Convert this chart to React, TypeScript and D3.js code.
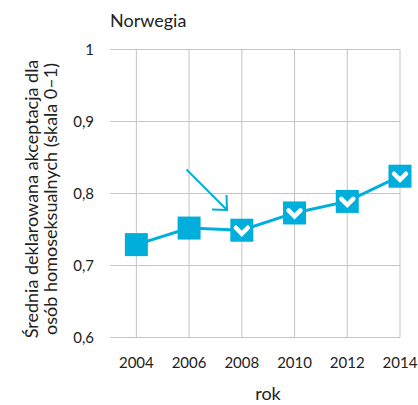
import React from 'react';
import * as d3 from 'd3';

const years = [2004, 2006, 2008, 2010, 2012, 2014];
const values = [0.729, 0.752, 0.749, 0.773, 0.789, 0.824];
const withHeart = [false, false, true, true, true, true];
const yTicks = [0.6, 0.7, 0.8, 0.9, 1];

const color = '#00aedb';
const font = 'Lato, sans-serif';

export default function App() {
	const width = 418;
	const height = 405;

	const x = d3.scaleLinear().domain([2003, 2014]).range([110, 400]);
	const y = d3.scaleLinear().domain([0.6, 1]).range([337.5, 49.5]);

	const line = d3.line<number>()
		.x((d, i) => x(years[i]))
		.y(d => y(d));

	const fmt = (v: number) => (v === 1 ? '1' : d3.format('.1f')(v).replace('.', ','));

	return (
		<svg width={width} height={height} style={{ position: 'absolute', left: 0, top: 0 }}>
			<text x={110} y={27} fontFamily={font} fontSize={18} fill="#222">Norwegia</text>

			{/* grid */}
			{yTicks.map(t => (
				<line key={t} x1={110} x2={400} y1={y(t)} y2={y(t)} stroke="#c4c4c4" strokeWidth={1} />
			))}
			{years.map(yr => (
				<line key={yr} x1={x(yr)} x2={x(yr)} y1={y(1)} y2={y(0.6)} stroke="#c4c4c4" strokeWidth={1} />
			))}

			{yTicks.map(t => (
				<text key={t} x={94} y={y(t) + 5} textAnchor="end" fontFamily={font} fontSize={15} fill="#222">{fmt(t)}</text>
			))}
			{years.map(yr => (
				<text key={yr} x={x(yr)} y={368} textAnchor="middle" fontFamily={font} fontSize={15} fill="#222">{yr}</text>
			))}

			<text x={268} y={400} textAnchor="middle" fontFamily={font} fontSize={18} fill="#222">rok</text>

			<g transform="translate(0,199) rotate(-90)" fontFamily={font} fontSize={18} fill="#222" textAnchor="middle">
				<text x={0} y={38}>Średnia deklarowana akceptacja dla</text>
				<text x={0} y={57}>osób homoseksualnych (skala 0–1)</text>
			</g>

			{/* arrow */}
			<g stroke={color} strokeWidth={2} fill="none">
				<line x1={186.5} y1={169.5} x2={227} y2={210} />
				<polyline points="226.5,195 227,210 212,209.5" />
			</g>

			<path d={line(values) ?? ''} fill="none" stroke={color} strokeWidth={3} />

			{values.map((v, i) => (
				<g key={years[i]} transform={`translate(${x(years[i])},${y(v)})`}>
					<rect x={-11.5} y={-11.5} width={23} height={23} fill={color} />
					{withHeart[i] && (
						<path d="M-6,-2.5 L0,3.5 L6,-2.5" fill="none" stroke="#fff" strokeWidth={4.5} strokeLinecap="round" strokeLinejoin="miter" />
					)}
				</g>
			))}
		</svg>
	);
}
